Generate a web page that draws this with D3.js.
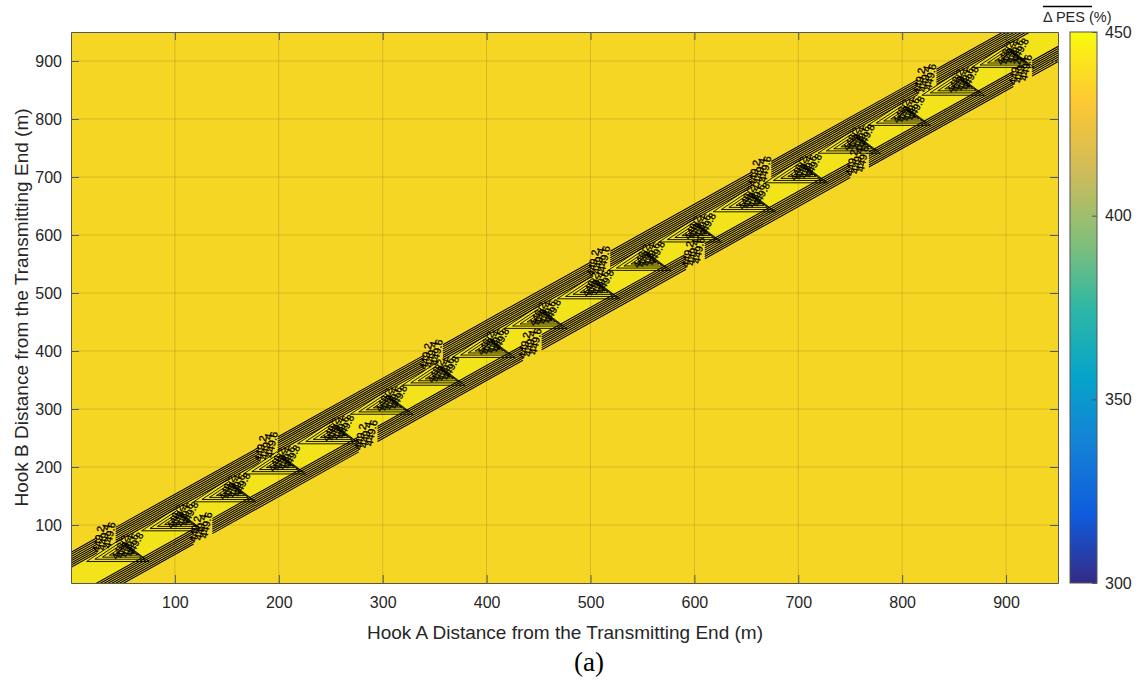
<!DOCTYPE html>
<html>
<head>
<meta charset="utf-8">
<script src="https://cdn.jsdelivr.net/npm/d3@7"></script>
<style>
  body { margin: 0; background: #fff; }
  svg { font-family: "Liberation Sans", Arial, sans-serif; }
</style>
</head>
<body>
<div id="chart"></div>
<script>
// chart size, plot box in pixels
const width = 1140;
const height = 682;
const margin = {left: 71, right: 82, top: 32, bottom: 99};

// tick values
const xTicks = [100, 200, 300, 400, 500, 600, 700, 800, 900];
const yTicks = [100, 200, 300, 400, 500, 600, 700, 800, 900];
const cbTicks = [300, 350, 400, 450];

// contour lines along the band, given as offset B - A (m)
const upperStrip = [27, 30.7, 34.4, 38.1, 41.8, 45.5, 49.2, 52.9];
const lowerStrip = [-25, -28.7, -32.4, -36.1, -39.8, -43.5, -47.2, -50.9];
const innerBand = [-24, 26];

// where the strips are cut for labels (Hook A position, m)
const upperGaps = [34, 190, 349, 510, 665, 824];
const lowerGaps = [127, 286, 444, 601, 759, 916];

// small closed contours inside the band (Hook A position, m)
const nestA = [53, 106, 156, 204, 256, 307, 357, 405, 455, 506, 555, 604, 656, 706, 757, 805, 857, 905];
const nestScale = [1, 0.8, 0.62, 0.45, 0.3];

// contour labels
const contourLabels = ["449.2", "449.4", "449.6", "449.8"];

// colours (parula)
const parula = ["#352a87", "#0f5cdd", "#1481d6", "#06a4ca", "#2eb7a4", "#87bf77", "#d1bb59", "#fec832", "#f9fb0e"];
const fieldLow = "#f5d624";
const fieldHigh = "#f3e31b";

const svg = d3.select("#chart")
  .append("svg")
  .attr("width", width)
  .attr("height", height);

const x = d3.scaleLinear()
  .domain([0, 950])
  .range([margin.left, 1058]);

const y = d3.scaleLinear()
  .domain([0, 950])
  .range([height - margin.bottom, margin.top]);

const x0 = x.range()[0], x1 = x.range()[1];
const y0 = y.range()[1], y1 = y.range()[0];

svg.append("clipPath").attr("id", "plotclip")
  .append("rect")
  .attr("x", x0).attr("y", y0)
  .attr("width", x1 - x0).attr("height", y1 - y0);

// background field
svg.append("rect")
  .attr("x", x0).attr("y", y0)
  .attr("width", x1 - x0).attr("height", y1 - y0)
  .attr("fill", fieldLow);

const plot = svg.append("g").attr("clip-path", "url(#plotclip)");

const line = d3.line().x(d => x(d[0])).y(d => y(d[1]));

// bright inner band
const bandPts = [[-100, -100 + innerBand[0]], [1100, 1100 + innerBand[0]],
                 [1100, 1100 + innerBand[1]], [-100, -100 + innerBand[1]]];
plot.append("path")
  .attr("d", line(bandPts) + "Z")
  .attr("fill", fieldHigh);

// strips of contour lines, cut at the label gaps
function drawStrip(offsets, gaps) {
  const cuts = [-100].concat(gaps.flatMap(g => [g - 9, g + 9])).concat([1100]);
  for (let i = 0; i < cuts.length; i += 2) {
    const a1 = cuts[i], a2 = cuts[i + 1];
    offsets.forEach(t => {
      plot.append("path")
        .attr("d", line([[a1, a1 + t], [a2, a2 + t]]))
        .attr("fill", "none")
        .attr("stroke", "#000")
        .attr("stroke-width", 1.1);
    });
  }
}
drawStrip(upperStrip, upperGaps);
drawStrip(lowerStrip, lowerGaps);

// nested contours
const nestShape = [[-40, -20], [20, -20], [-8, 18]];
nestA.forEach(a => {
  const b = a + 4;
  nestScale.forEach(s => {
    const pts = nestShape.map(p => [a + 2 + p[0] * s, b + p[1] * s]);
    plot.append("path")
      .attr("d", line(pts) + "Z")
      .attr("fill", "none")
      .attr("stroke", "#000")
      .attr("stroke-width", 0.9);
  });
  // labels
  contourLabels.forEach((lab, i) => {
    plot.append("text")
      .attr("transform", `translate(${x(a) - 9 + i * 5},${y(b) + 10 - i}) rotate(-62)`)
      .attr("font-size", 10)
      .attr("fill", "#000")
      .attr("stroke", "#000").attr("stroke-width", 0.3)
      .text(lab);
  });
});

// labels in the strip gaps
function gapLabels(gaps, t) {
  gaps.forEach(a => {
    contourLabels.slice(0, 3).forEach((lab, i) => {
      plot.append("text")
        .attr("transform", `translate(${x(a) - 7 + i * 5.5},${y(a + t) + 12 - i * 2}) rotate(-78)`)
        .attr("font-size", 10.5)
        .attr("fill", "#000")
        .attr("stroke", "#000").attr("stroke-width", 0.3)
        .text(lab);
    });
  });
}
gapLabels(upperGaps, 39);
gapLabels(lowerGaps, -37);

// grid
svg.append("g").selectAll("line").data(xTicks).join("line")
  .attr("x1", d => x(d)).attr("x2", d => x(d))
  .attr("y1", y0).attr("y2", y1)
  .attr("stroke", "#000").attr("stroke-opacity", 0.13);
svg.append("g").selectAll("line").data(yTicks).join("line")
  .attr("y1", d => y(d)).attr("y2", d => y(d))
  .attr("x1", x0).attr("x2", x1)
  .attr("stroke", "#000").attr("stroke-opacity", 0.13);

// axes
const axisColor = "#555";
const gx = svg.append("g")
  .attr("transform", `translate(0,${y1})`)
  .call(d3.axisBottom(x).tickValues(xTicks).tickSizeInner(-8).tickSizeOuter(0).tickPadding(14));
const gxTop = svg.append("g")
  .attr("transform", `translate(0,${y0})`)
  .call(d3.axisTop(x).tickValues(xTicks).tickSizeInner(-8).tickSizeOuter(0).tickFormat(""));
const gy = svg.append("g")
  .attr("transform", `translate(${x0},0)`)
  .call(d3.axisLeft(y).tickValues(yTicks).tickSizeInner(-8).tickSizeOuter(0).tickPadding(9));
const gyRight = svg.append("g")
  .attr("transform", `translate(${x1},0)`)
  .call(d3.axisRight(y).tickValues(yTicks).tickSizeInner(-8).tickSizeOuter(0).tickFormat(""));
[gx, gxTop, gy, gyRight].forEach(g => {
  g.selectAll(".domain").attr("stroke", axisColor);
  g.selectAll(".tick line").attr("stroke", axisColor);
  g.selectAll("text").attr("font-size", 16).attr("fill", "#262626")
    .attr("font-family", "Liberation Sans, Arial, sans-serif");
});

// axis titles
svg.append("text")
  .attr("x", 565).attr("y", 639)
  .attr("text-anchor", "middle")
  .attr("font-size", 19).attr("fill", "#262626")
  .text("Hook A Distance from the Transmitting End (m)");
svg.append("text")
  .attr("transform", `translate(28,${(y0 + y1) / 2}) rotate(-90)`)
  .attr("text-anchor", "middle")
  .attr("font-size", 19).attr("fill", "#262626")
  .text("Hook B Distance from the Transmitting End (m)");
svg.append("text")
  .attr("x", 589).attr("y", 671)
  .attr("text-anchor", "middle")
  .attr("font-family", "Liberation Serif, Times New Roman, serif")
  .attr("font-size", 27).attr("fill", "#000")
  .text("(a)");

// colorbar
const cbX = 1070, cbW = 27;
const cb = d3.scaleLinear().domain([300, 450]).range([y1, y0]);
const grad = svg.append("defs").append("linearGradient")
  .attr("id", "parula").attr("x1", 0).attr("x2", 0).attr("y1", 1).attr("y2", 0);
parula.forEach((c, i) => {
  grad.append("stop").attr("offset", i / (parula.length - 1)).attr("stop-color", c);
});
svg.append("rect")
  .attr("x", cbX).attr("y", y0)
  .attr("width", cbW).attr("height", y1 - y0)
  .attr("fill", "url(#parula)")
  .attr("stroke", axisColor);
const gcb = svg.append("g")
  .attr("transform", `translate(${cbX + cbW},0)`)
  .call(d3.axisRight(cb).tickValues(cbTicks).tickSizeInner(-5).tickSizeOuter(0).tickPadding(8));
gcb.select(".domain").remove();
gcb.selectAll(".tick line").attr("stroke", axisColor);
gcb.selectAll("text").attr("font-size", 16).attr("fill", "#262626")
  .attr("font-family", "Liberation Sans, Arial, sans-serif");

// colorbar title with overline
svg.append("text")
  .attr("x", 1043).attr("y", 22)
  .attr("font-size", 14.5).attr("fill", "#262626")
  .text("\u0394 PES (%)");
svg.append("line")
  .attr("x1", 1043).attr("x2", 1092)
  .attr("y1", 6.5).attr("y2", 6.5)
  .attr("stroke", "#000").attr("stroke-width", 1.5);
</script>
</body>
</html>
